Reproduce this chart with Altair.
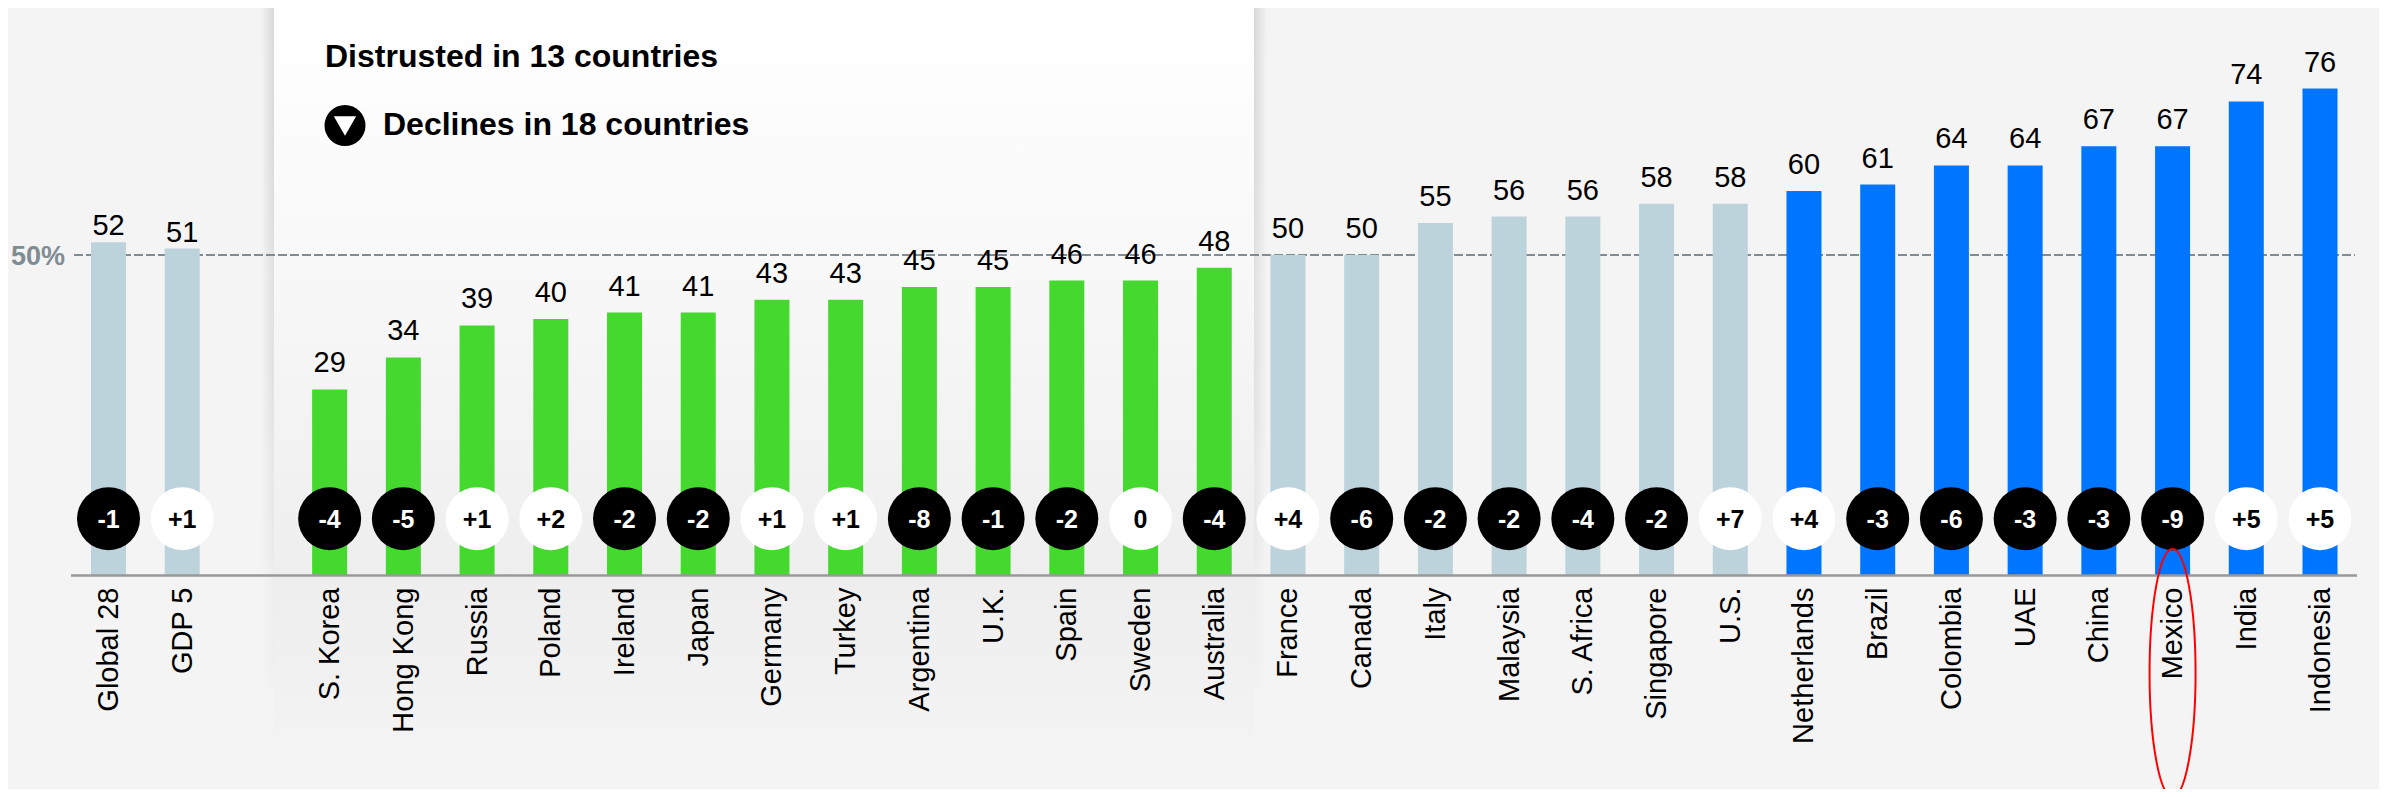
import altair as alt
import pandas as pd

countries = ["Global 28", "GDP 5", " ", "S. Korea", "Hong Kong", "Russia", "Poland", "Ireland", "Japan", "Germany", "Turkey",
             "Argentina", "U.K.", "Spain", "Sweden", "Australia", "France", "Canada", "Italy", "Malaysia", "S. Africa",
             "Singapore", "U.S.", "Netherlands", "Brazil", "Colombia", "UAE", "China", "Mexico", "India", "Indonesia"]
values = [52, 51, None, 29, 34, 39, 40, 41, 41, 43, 43, 45, 45, 46, 46, 48, 50, 50, 55, 56, 56, 58, 58, 60, 61, 64, 64, 67, 67, 74, 76]
changes = ["-1", "+1", None, "-4", "-5", "+1", "+2", "-2", "-2", "+1", "+1", "-8", "-1", "-2", "0", "-4", "+4", "-6", "-2", "-2",
           "-4", "-2", "+7", "+4", "-3", "-6", "-3", "-3", "-9", "+5", "+5"]
groups = ["neutral", "neutral", None] + ["distrust"] * 13 + ["neutral"] * 7 + ["trust"] * 8

df = pd.DataFrame({"country": countries, "value": values, "change": changes, "group": groups})
df = df[df["value"].notna()]
df["down"] = df["change"].str.startswith("-")
aggregates = df[df["country"].isin(["Global 28", "GDP 5"])]
markets = df[~df["country"].isin(["Global 28", "GDP 5"])]

FONT = "Liberation Sans"
YDOM = [0, 88.59]
x = alt.X("country:N", sort=None, title=None,
          scale=alt.Scale(type="point", domain=countries, range=[100.5, 2312], padding=0),
          axis=alt.Axis(domain=False, ticks=False, labelAngle=-90, labelFont=FONT, labelFontSize=29,
                        labelColor="#000000", labelPadding=12, labelAlign="right", labelBaseline="middle",
                        labelOverlap=False, grid=False, labelLimit=400, zindex=2))
y = alt.Y("value:Q", title=None, scale=alt.Scale(domain=YDOM, nice=False), axis=None)

bars = alt.Chart(df).mark_bar(size=35).encode(
    x=x, y=y,
    color=alt.Color("group:N", legend=None,
                    scale=alt.Scale(domain=["neutral", "distrust", "trust"], range=["#bcd3db", "#45d82f", "#0075ff"])))
labels_a = alt.Chart(aggregates).mark_text(font=FONT, fontSize=29, color="#000000", baseline="alphabetic", dy=-7).encode(
    x=x, y=y, text="value:Q")
labels_b = alt.Chart(markets).mark_text(font=FONT, fontSize=29, color="#000000", baseline="alphabetic", dy=-17).encode(
    x=x, y=y, text="value:Q")
circles = alt.Chart(df).mark_circle(size=3969, opacity=1).encode(
    x=x, y=alt.value(510.7),
    color=alt.condition("datum.down", alt.value("#000000"), alt.value("#ffffff")))
change_text = alt.Chart(df).mark_text(font=FONT, fontSize=25, fontWeight="bold", baseline="middle").encode(
    x=x, y=alt.value(512), text="change:N",
    color=alt.condition("datum.down", alt.value("#ffffff"), alt.value("#000000")))

one = pd.DataFrame({"k": [1]})
base = alt.Chart(one)
def box(x0, x1, y0, y1, **kw):
    return base.mark_rect(**kw).encode(x=alt.value(x0), x2=alt.value(x1), y=alt.value(y0), y2=alt.value(y1))

fade = alt.LinearGradient(
    gradient="linear", x1=0, x2=0, y1=0, y2=1,
    stops=[alt.GradientStop(offset=0, color="rgba(0,0,0,0.018)"),
           alt.GradientStop(offset=0.55, color="rgba(0,0,0,0.012)"),
           alt.GradientStop(offset=1, color="rgba(0,0,0,0)")])
shadows = [box(266 - d, 1246 + d, -d, 737, color=fade) for d in (2, 4, 6, 8, 10, 12)]
panel = box(266, 1246, 0, 737, color=alt.LinearGradient(
    gradient="linear", x1=0, x2=0, y1=0, y2=1,
    stops=[alt.GradientStop(offset=0, color="#ffffff"),
           alt.GradientStop(offset=0.35, color="#f8f8f8"),
           alt.GradientStop(offset=0.78, color="#eeeeee"),
           alt.GradientStop(offset=1, color="#f3f3f3")]))

threshold = base.mark_rule(color="#7f8c93", strokeWidth=2, strokeDash=[9, 3]).encode(
    x=alt.value(66), x2=alt.value(2347),
    y=alt.Y(datum=50, scale=alt.Scale(domain=YDOM, nice=False), axis=None))
baseline = base.mark_rule(color="#999999", strokeWidth=2.5).encode(
    x=alt.value(63), x2=alt.value(2349), y=alt.value(567.5))
pct = base.mark_text(text="50%", font=FONT, fontSize=27, fontWeight="bold", color="#7f8c93", align="left", baseline="middle").encode(
    x=alt.value(3), y=alt.value(249))
t1 = base.mark_text(text="Distrusted in 13 countries", font=FONT, fontSize=32, fontWeight="bold", color="#000000", align="left", baseline="alphabetic").encode(
    x=alt.value(317), y=alt.value(59))
t2 = base.mark_text(text="Declines in 18 countries", font=FONT, fontSize=32, fontWeight="bold", color="#000000", align="left", baseline="alphabetic").encode(
    x=alt.value(375), y=alt.value(127))
icon = base.mark_circle(size=1681, color="#000000", opacity=1).encode(x=alt.value(337), y=alt.value(117.5))
tri = base.mark_point(shape="triangle-down", size=500, filled=True, color="#ffffff", opacity=1).encode(x=alt.value(337), y=alt.value(118))

ring = alt.Chart(df[df["country"] == "Mexico"]).mark_point(
    shape="M0,-1 A0.1855,1 0 1,1 0,1 A0.1855,1 0 1,1 0,-1", size=61504, color="#ff0000", filled=False, strokeWidth=2, opacity=1
).encode(x=x, y=alt.value(665))

chart = alt.layer(*shadows, panel, threshold, bars, labels_a, labels_b, baseline, circles, change_text, pct, t1, t2, icon, tri, ring).properties(
    width=2371, height=567, background="#f4f4f4",
    padding={"left": 0, "right": 0, "top": 0, "bottom": 214},
    autosize=alt.AutoSizeParams(type="none"),
).configure_view(stroke=None)

chart.save("out.html", embed_options={"renderer": "svg", "actions": False})
